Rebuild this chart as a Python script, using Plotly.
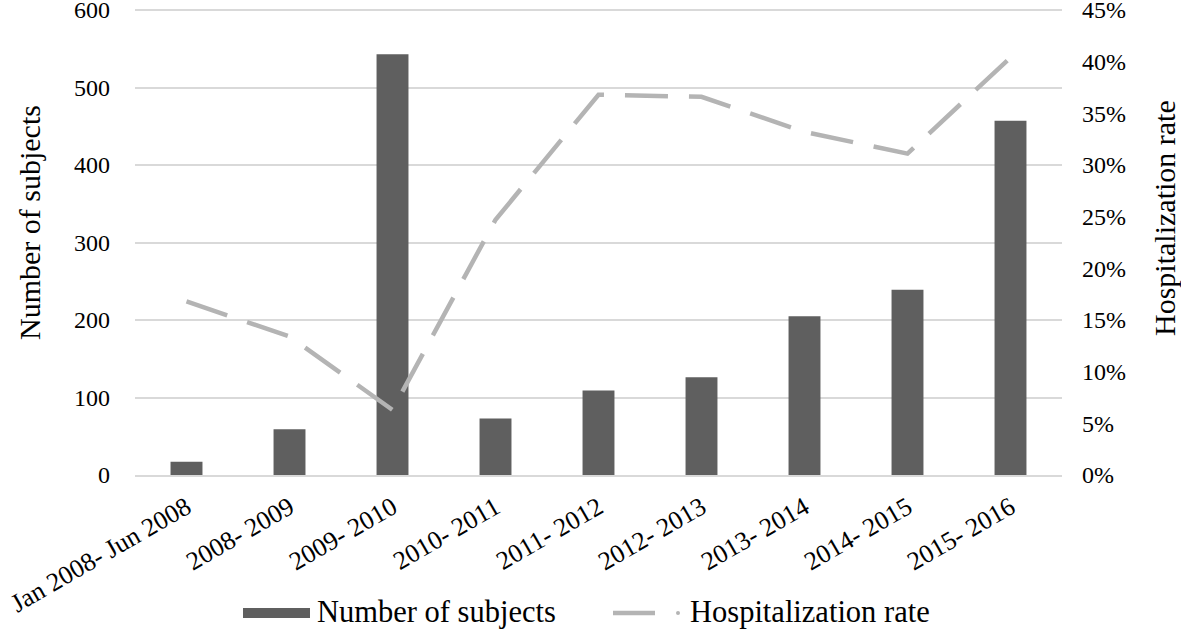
import plotly.graph_objects as go

categories = ["Jan 2008- Jun 2008", "2008- 2009", "2009- 2010", "2010- 2011",
              "2011- 2012", "2012- 2013", "2013- 2014", "2014- 2015", "2015- 2016"]
subjects = [17, 59, 543, 73, 109, 126, 205, 239, 457]
hosp_rate = [0.168, 0.134, 0.063, 0.247, 0.368, 0.366, 0.332, 0.311, 0.404]

left_ticks = [0, 100, 200, 300, 400, 500, 600]
right_ticks = [0, 0.05, 0.10, 0.15, 0.20, 0.25, 0.30, 0.35, 0.40, 0.45]

FONT = "Liberation Serif, Times New Roman, serif"
BAR_COLOR = "#5f5f5f"
LINE_COLOR = "#b4b4b4"
GRID = "#d9d9d9"

fig = go.Figure()
fig.add_trace(go.Bar(x=categories, y=subjects, name="Number of subjects",
                     marker=dict(color=BAR_COLOR, line=dict(width=0)),
                     yaxis="y"))
fig.add_trace(go.Scatter(x=categories, y=hosp_rate, name="Hospitalization rate",
                         mode="lines", yaxis="y2",
                         line=dict(color=LINE_COLOR, width=4.5, dash="43px,21px")))

W, H = 1181, 632
# top grid line wanted at y=10, zero line at y=475; plot area starts 2px higher
GRID_TOP, GRID_BOT = 10, 475
L, R, T, B = 135, 119, 8, H - GRID_BOT
pw, ph = W - L - R, H - T - B
stretch = ph / (GRID_BOT - GRID_TOP)

def px(x):
    return (x - L) / pw

def py(y):
    return (H - B - y) / ph

fig.update_layout(
    width=W, height=H,
    margin=dict(l=L, r=R, t=T, b=B, autoexpand=False),
    paper_bgcolor="white", plot_bgcolor="white",
    font=dict(family=FONT, size=24, color="black"),
    showlegend=False,
    bargap=0.69,
    xaxis=dict(tickangle=-30, showgrid=False, showline=True, linecolor=GRID,
               linewidth=2, ticks="", tickfont=dict(size=26),
               ticklabelstandoff=5, automargin=False, ticklabeloverflow="allow"),
    yaxis=dict(range=[0, max(left_ticks) * stretch], tickvals=left_ticks,
               showgrid=True, gridcolor=GRID, gridwidth=2, zeroline=False,
               showline=False, ticks="", tickfont=dict(size=24),
               ticklabelstandoff=24, automargin=False, ticklabeloverflow="allow"),
    yaxis2=dict(range=[0, max(right_ticks) * stretch], tickvals=right_ticks,
                tickformat=".0%", overlaying="y", side="right", showgrid=False,
                zeroline=False, showline=False, ticks="", tickfont=dict(size=24),
                ticklabelstandoff=19, automargin=False, ticklabeloverflow="allow"),
)

# axis titles
fig.add_annotation(text="Number of subjects", xref="paper", yref="paper",
                   x=px(29), y=py(223), textangle=-90, showarrow=False,
                   font=dict(size=30, family=FONT), xanchor="center", yanchor="middle")
fig.add_annotation(text="Hospitalization rate", xref="paper", yref="paper",
                   x=px(1165), y=py(218), textangle=-90, showarrow=False,
                   font=dict(size=30, family=FONT), xanchor="center", yanchor="middle")

# custom legend
fig.add_shape(type="rect", xref="paper", yref="paper",
              x0=px(243), x1=px(310), y0=py(618), y1=py(608),
              fillcolor=BAR_COLOR, line=dict(width=0))
fig.add_annotation(text="Number of subjects", xref="paper", yref="paper",
                   x=px(315), y=py(612), showarrow=False, xanchor="left",
                   yanchor="middle", font=dict(size=30.5, family=FONT))
fig.add_shape(type="line", xref="paper", yref="paper",
              x0=px(613), x1=px(655), y0=py(613), y1=py(613),
              line=dict(color=LINE_COLOR, width=4.5))
fig.add_shape(type="circle", xref="paper", yref="paper",
              x0=px(676), x1=px(680), y0=py(615), y1=py(611),
              fillcolor=LINE_COLOR, line=dict(width=0))
fig.add_annotation(text="Hospitalization rate", xref="paper", yref="paper",
                   x=px(688), y=py(612), showarrow=False, xanchor="left",
                   yanchor="middle", font=dict(size=30.5, family=FONT))

fig.write_html("out.html", config={"displayModeBar": False},
               post_script="document.body.style.margin='0';")
